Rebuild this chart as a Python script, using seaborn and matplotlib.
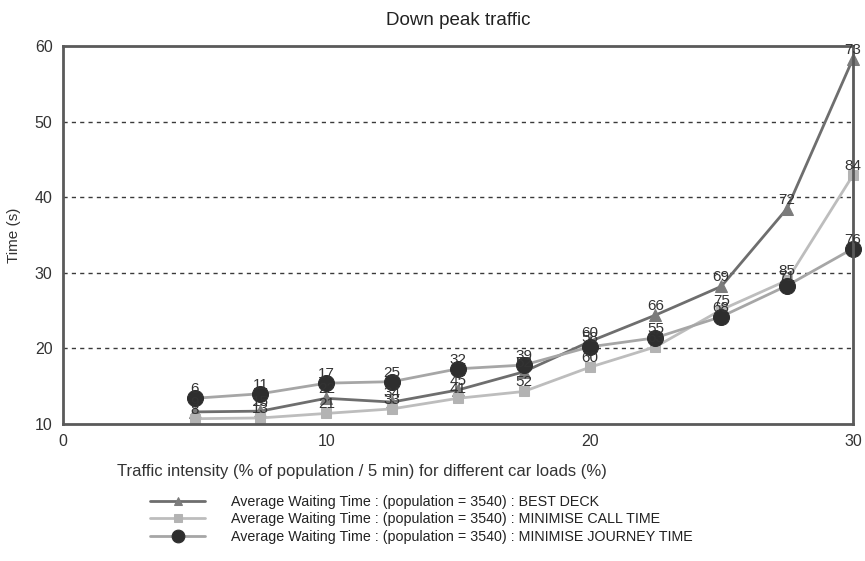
import pandas as pd
import seaborn as sns
import matplotlib.pyplot as plt
from matplotlib.ticker import MultipleLocator

# traffic intensity (% of population / 5 min)
intensity = [5, 7.5, 10, 12.5, 15, 17.5, 20, 22.5, 25, 27.5, 30]

# average waiting time (s) per algorithm
best_deck = [11.6, 11.7, 13.4, 12.9, 14.5, 16.9, 20.9, 24.4, 28.2, 38.5, 58.3]
call_time = [10.7, 10.8, 11.4, 12.0, 13.4, 14.3, 17.5, 20.2, 25.1, 29.0, 42.9]
journey_time = [13.4, 14.0, 15.4, 15.6, 17.3, 17.8, 20.2, 21.4, 24.2, 28.3, 33.2]

# car load (%) labels
best_deck_lbl = [9, 15, 22, 34, 45, 52, 60, 66, 69, 72, 73]
call_time_lbl = [8, 13, 21, 33, 41, 52, 60, 63, 75, 85, 84]
journey_time_lbl = [6, 11, 17, 25, 32, 39, 58, 55, 68, 71, 76]

names = ['Average Waiting Time : (population = 3540) : BEST DECK',
         'Average Waiting Time : (population = 3540) : MINIMISE CALL TIME',
         'Average Waiting Time : (population = 3540) : MINIMISE JOURNEY TIME']

sns.set_style('white')
plt.rcParams['font.family'] = ['Liberation Sans', 'DejaVu Sans']

df = pd.DataFrame({'x': intensity, 'best': best_deck, 'call': call_time, 'journey': journey_time})

fig = plt.figure(figsize=(8.65, 5.61), dpi=100)
ax = fig.add_axes([0.0728, 0.2442, 0.9132, 0.6738])

for y in [20, 30, 40, 50]:
    ax.axhline(y, color='#3a3a3a', linestyle=(0, (3, 3)), linewidth=1.0, zorder=0)

styles = [
    ('best', '#6e6e6e', '^', '#7c7c7c', 8, best_deck_lbl),
    ('call', '#bdbdbd', 's', '#b3b3b3', 7, call_time_lbl),
    ('journey', '#a6a6a6', 'o', '#2e2e2e', 11.5, journey_time_lbl),
]
for (col, lc, mk, mc, ms, lbls), name in zip(styles, names):
    sns.lineplot(data=df, x='x', y=col, ax=ax, color=lc, linewidth=2.0,
                 marker=mk, markersize=ms, markerfacecolor=mc, markeredgecolor=mc,
                 label=name, clip_on=False)
    for xv, yv, t in zip(df['x'], df[col], lbls):
        ax.annotate(str(t), (xv, yv), xytext=(0, 6.5), textcoords='offset points',
                    ha='center', va='center', fontsize=11, color='#333333', zorder=5)

ax.set_xlim(0, 30)
ax.set_ylim(10, 60)
ax.xaxis.set_major_locator(MultipleLocator(10))
ax.xaxis.set_minor_locator(MultipleLocator(5))
ax.yaxis.set_major_locator(MultipleLocator(10))
ax.yaxis.set_minor_locator(MultipleLocator(5))
ax.tick_params(which='both', direction='inout', length=8, width=1.5, color='#555555',
               labelsize=11.5, labelcolor='#333333')
for s in ax.spines.values():
    s.set_visible(True)
    s.set_color('#5a5a5a')
    s.set_linewidth(2)

ax.set_title('Down peak traffic', fontsize=13.5, color='#222222', pad=15)
ax.set_xlabel('')
fig.text(0.418, 0.16, 'Traffic intensity (% of population / 5 min) for different car loads (%)',
         fontsize=12, color='#333333', ha='center', va='center')
ax.set_ylabel('Time (s)', fontsize=11, color='#333333', labelpad=10)

ax.legend_.remove()
h, l = ax.get_legend_handles_labels()
fig.legend(h, l, loc='upper left', bbox_to_anchor=(0.159, 0.141), frameon=False,
           fontsize=10.3, handlelength=3.8, handletextpad=1.8, labelspacing=0.25,
           markerscale=0.8, labelcolor='#222222')

fig.savefig('out.png', dpi=100)
